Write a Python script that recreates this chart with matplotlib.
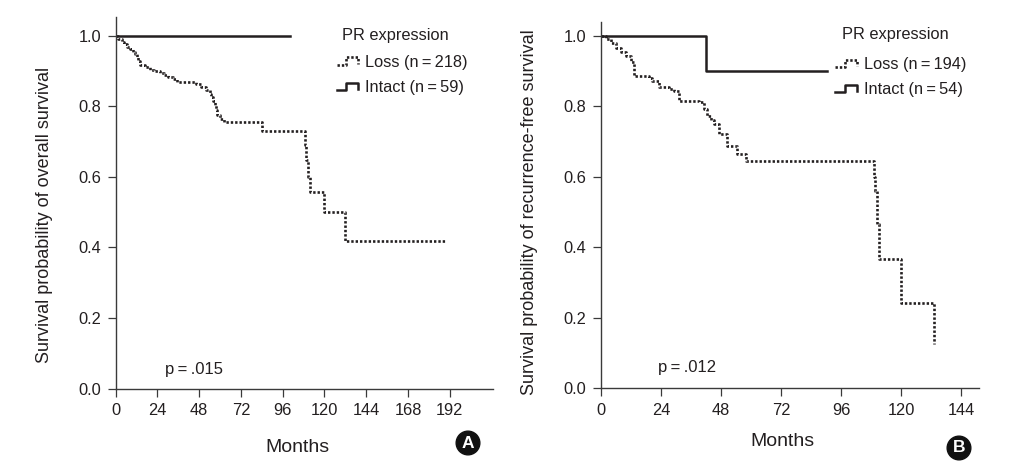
import matplotlib
matplotlib.use("Agg")
import matplotlib.pyplot as plt
from matplotlib.lines import Line2D
from matplotlib.legend_handler import HandlerBase

plt.rcParams['font.family'] = ['Liberation Sans', 'DejaVu Sans']

# ---------------- data ----------------
# Panel A: overall survival
a_loss_t = [0, 1.5, 3.5, 5, 6.5, 8.5, 10, 11, 12, 13, 14, 17, 19.5, 22, 25.5, 28, 30, 33, 35,
            46, 49, 52, 54, 55, 56, 57, 57.5, 58, 60, 62, 84, 109, 109.5, 110.5, 111.5, 120, 132, 189]
a_loss_s = [1.0, 0.99, 0.983, 0.975, 0.969, 0.962, 0.955, 0.948, 0.940, 0.928, 0.917, 0.910, 0.903,
            0.899, 0.895, 0.889, 0.884, 0.877, 0.870, 0.862, 0.855, 0.846, 0.836, 0.827, 0.815, 0.804,
            0.79, 0.775, 0.765, 0.756, 0.730, 0.69, 0.648, 0.60, 0.558, 0.501, 0.418, 0.418]
a_intact_t = [0, 100]
a_intact_s = [1.0, 1.0]

# Panel B: recurrence-free survival
b_loss_t = [0, 2, 4, 6, 8, 10, 12, 13, 19, 20.5, 23, 27, 29, 31, 39, 41, 42.5, 44, 45, 47, 50.5,
            54.5, 58, 109, 109.5, 110.5, 111, 120, 133]
b_loss_s = [1.0, 0.99, 0.98, 0.965, 0.955, 0.944, 0.925, 0.887, 0.880, 0.873, 0.854, 0.848, 0.844,
            0.816, 0.811, 0.792, 0.773, 0.76, 0.749, 0.721, 0.688, 0.664, 0.645, 0.60, 0.56, 0.465,
            0.367, 0.242, 0.126]
b_intact_t = [0, 42, 90.5]
b_intact_s = [1.0, 0.9, 0.9]

x_ticks_a = [0, 24, 48, 72, 96, 120, 144, 168, 192]
x_ticks_b = [0, 24, 48, 72, 96, 120, 144]
y_ticks = [0.0, 0.2, 0.4, 0.6, 0.8, 1.0]

TS = '\u2009'
labels_a = [f"Loss (n{TS}={TS}218)", f"Intact (n{TS}={TS}59)"]
labels_b = [f"Loss (n{TS}={TS}194)", f"Intact (n{TS}={TS}54)"]
p_a = f"p{TS}={TS}.015"
p_b = f"p{TS}={TS}.012"

INK = '#231f20'
AX = '#3a3a3a'


class StepHandler(HandlerBase):
    def create_artists(self, legend, orig_handle, xdescent, ydescent, width, height, fontsize, trans):
        x0, y0 = -xdescent, -ydescent
        xs = [x0 + f * width for f in (0.0, 0.42, 0.42, 0.95, 0.95)]
        ys = [y0 + f * height for f in (0.2, 0.2, 0.85, 0.85, 0.3)]
        ln = Line2D(xs, ys)
        ln.update_from(orig_handle)
        ln.set_data(xs, ys)
        ln.set_transform(trans)
        return [ln]


fig = plt.figure(figsize=(10.32, 4.70), dpi=100)
axA = fig.add_axes([115.7 / 1032, (470 - 388.7) / 470, 377 / 1032, 371.4 / 470])
axB = fig.add_axes([601 / 1032, (470 - 388.3) / 470, 378 / 1032, 366.6 / 470])

dot_style = dict(color=INK, lw=1.9, linestyle=(0, (0.9, 0.75)), drawstyle='steps-post')
solid_style = dict(color=INK, lw=1.8, linestyle='-', drawstyle='steps-post')

panels = [
    (axA, a_loss_t, a_loss_s, a_intact_t, a_intact_s, x_ticks_a, 216.7, 1.052,
     "Survival probability of overall survival", labels_a, p_a,
     (0.481, -0.157), (-0.190, 0.468), (0.207, 0.053), (0.599, 0.952), (0.586, 0.898)),
    (axB, b_loss_t, b_loss_s, b_intact_t, b_intact_s, x_ticks_b, 151.2, 1.04,
     "Survival probability of recurrence-free survival", labels_b, p_b,
     (0.481, -0.146), (-0.188, 0.481), (0.229, 0.056), (0.637, 0.964), (0.619, 0.903)),
]

for (ax, lt, ls, it, is_, xt, xmax, ymax, ylab, labs, ptxt,
     xl_pos, yl_pos, p_pos, title_pos, leg_pos) in panels:
    l1, = ax.plot(lt, ls, **dot_style)
    l2, = ax.plot(it, is_, **solid_style)
    ax.set_xlim(0, xmax)
    ax.set_ylim(0, ymax)
    ax.set_xticks(xt)
    ax.set_yticks(y_ticks)
    ax.set_yticklabels([f"{v:.1f}" for v in y_ticks])
    for s in ('top', 'right'):
        ax.spines[s].set_visible(False)
    for s in ('left', 'bottom'):
        ax.spines[s].set_color(AX)
        ax.spines[s].set_linewidth(1.0)
    ax.tick_params(direction='out', length=5.5, width=0.9, color=AX,
                   labelsize=11.8, labelcolor=INK, pad=5)
    ax.set_xlabel("Months", fontsize=14, color=INK)
    ax.xaxis.set_label_coords(*xl_pos)
    ax.xaxis.label.set_verticalalignment('center')
    ax.set_ylabel(ylab, fontsize=13, color=INK)
    ax.yaxis.set_label_coords(*yl_pos)
    ax.yaxis.label.set_verticalalignment('center')
    ax.text(p_pos[0], p_pos[1], ptxt, transform=ax.transAxes, fontsize=12,
            color=INK, ha='center', va='center')
    ax.text(title_pos[0], title_pos[1], "PR expression", transform=ax.transAxes,
            fontsize=11.8, color=INK, ha='left', va='center')
    ax.legend([l1, l2], labs, loc='upper left', bbox_to_anchor=leg_pos,
              frameon=False, fontsize=11.8, labelcolor=INK, borderpad=0, borderaxespad=0,
              handlelength=1.4, handletextpad=0.35, labelspacing=0.62,
              handler_map={Line2D: StepHandler()})

for letter, (cx, cy) in (("A", (468, 443)), ("B", (959, 448))):
    fig.text(cx / 1032, 1 - cy / 470, letter, fontsize=12.5, fontweight='bold', color='white',
             ha='center', va='center',
             bbox=dict(boxstyle='circle,pad=0.25', facecolor='#111111', edgecolor='#111111'))

fig.savefig("out.png", dpi=100)
